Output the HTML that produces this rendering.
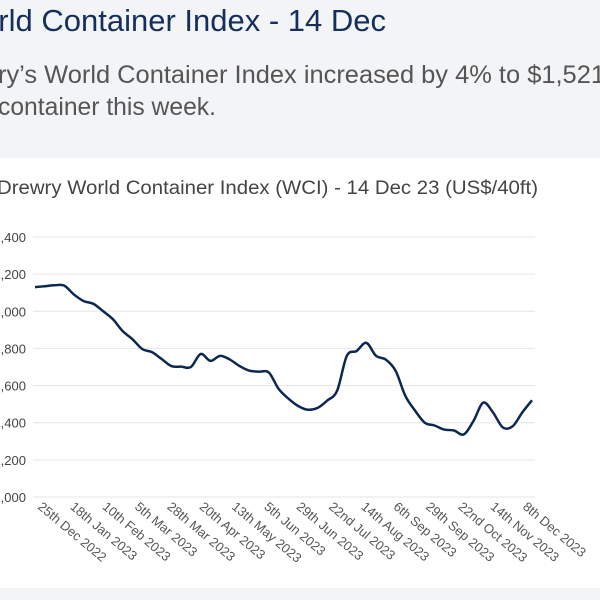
<!DOCTYPE html>
<html><head><meta charset="utf-8"><style>
html,body{margin:0;padding:0;width:600px;height:600px;overflow:hidden;background:#fff}
svg{display:block;font-family:"Liberation Sans",Arial,sans-serif}
</style></head><body>
<svg id="chart" width="600" height="600" viewBox="0 0 600 600">
<rect x="0" y="0" width="600" height="158" fill="#f3f4f6"/>
<rect x="0" y="588" width="600" height="12" fill="#f3f4f6"/>
<text x="386" y="31" text-anchor="end" font-size="31" fill="#152f5c">World Container Index - 14 Dec</text>
<text x="-2" y="83" font-size="25" fill="#555" textLength="607" lengthAdjust="spacingAndGlyphs">ry’s World Container Index increased by 4% to $1,521</text>
<text x="-2" y="115" font-size="25" fill="#555" textLength="218" lengthAdjust="spacingAndGlyphs">container this week.</text>
<text x="-3" y="194" font-size="19" fill="#444" textLength="541" lengthAdjust="spacingAndGlyphs">Drewry World Container Index (WCI) - 14 Dec 23 (US$/40ft)</text>
<g id="grid"></g><g id="ylabels"></g><g id="xlabels"></g>
<path id="line" fill="none" stroke="#0d2850" stroke-width="2.5" stroke-linejoin="round"/>
</svg>
<script>
const yTicks = [1000,1200,1400,1600,1800,2000,2200,2400];
const yTickLabels = ["1,000","1,200","1,400","1,600","1,800","2,000","2,200","2,400"];
const xLabels = ["25th Dec 2022","18th Jan 2023","10th Feb 2023","5th Mar 2023","28th Mar 2023","20th Apr 2023","13th May 2023","5th Jun 2023","29th Jun 2023","22nd Jul 2023","14th Aug 2023","6th Sep 2023","29th Sep 2023","22nd Oct 2023","14th Nov 2023","8th Dec 2023"];
const values = [2130,2135,2140,2138,2090,2055,2040,2000,1957,1893,1850,1797,1780,1743,1705,1702,1700,1770,1733,1760,1740,1705,1680,1675,1670,1582,1530,1490,1470,1480,1520,1572,1760,1786,1830,1760,1740,1680,1545,1465,1400,1385,1363,1358,1337,1410,1508,1455,1375,1380,1455,1521];
const NS="http://www.w3.org/2000/svg";
const x0=35,x1=532,yTop=237,yBot=497;
const xs=i=>x0+(x1-x0)*i/(values.length-1);
const ys=v=>yBot-(v-1000)/(2400-1000)*(yBot-yTop);
const grid=document.getElementById('grid'),yl=document.getElementById('ylabels'),xl=document.getElementById('xlabels');
yTicks.forEach((t,i)=>{
 const l=document.createElementNS(NS,'line');
 l.setAttribute('x1',33);l.setAttribute('x2',535);l.setAttribute('y1',ys(t));l.setAttribute('y2',ys(t));
 l.setAttribute('stroke','#e6e6e6');l.setAttribute('stroke-width','1');
 
 
 grid.appendChild(l);
 const tx=document.createElementNS(NS,'text');
 tx.setAttribute('x',26);tx.setAttribute('y',ys(t)+5);tx.setAttribute('text-anchor','end');
 tx.setAttribute('font-size','13');tx.setAttribute('fill','#444');tx.textContent=yTickLabels[i];
 
 
 yl.appendChild(tx);
});
xLabels.forEach((s,i)=>{
 const x=37+(522-37)*i/(xLabels.length-1);
 const tx=document.createElementNS(NS,'text');
 tx.setAttribute('transform','translate('+x+',508) rotate(40)');
 tx.setAttribute('font-size','13');tx.setAttribute('fill','#555');tx.textContent=s;
 
 
 xl.appendChild(tx);
});
const pts=values.map((v,i)=>[xs(i),ys(v)]);
let d='M'+pts[0][0]+','+pts[0][1];
for(let i=0;i<pts.length-1;i++){
 const p0=pts[Math.max(0,i-1)],p1=pts[i],p2=pts[i+1],p3=pts[Math.min(pts.length-1,i+2)];
 const c1=[p1[0]+(p2[0]-p0[0])/6,p1[1]+(p2[1]-p0[1])/6],c2=[p2[0]-(p3[0]-p1[0])/6,p2[1]-(p3[1]-p1[1])/6];
 d+=' C'+c1+' '+c2+' '+p2;
}
document.getElementById('line').setAttribute('d',d);
</script>
</body></html>
